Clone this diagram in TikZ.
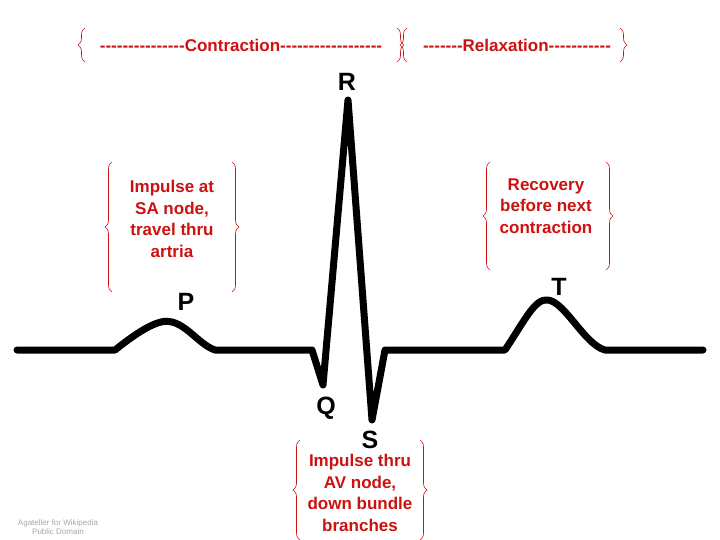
\documentclass[tikz,border=0pt]{standalone}
\usepackage{fontspec}
\setmainfont{Liberation Sans}[Ligatures=ResetAll]
\usetikzlibrary{decorations.pathreplacing}
\definecolor{myred}{HTML}{CC1111}
\newcommand\dsh[1]{\foreach \i in {1,...,#1}{-\kern0pt}}
\tikzset{
  br/.style={draw=myred,line width=0.6pt,decorate,decoration={brace,amplitude=7pt}},
  rt/.style={text=myred,font=\bfseries\fontsize{17}{21.5}\selectfont,align=center},
  tt/.style={text=myred,font=\bfseries\fontsize{17}{20}\selectfont},
  wl/.style={font=\bfseries\fontsize{25}{26}\selectfont},
  ecg/.style={line width=7pt,line join=round,line cap=round}
}
\begin{document}
\begin{tikzpicture}[x=1pt,y=-1pt]
\useasboundingbox (0,0) rectangle (720,540);
% top
\draw[br] (85,62) -- (85,28);
\node[tt] (c) at (241,45) {\dsh{15}Contraction\dsh{18}};
\draw[br] (397,28) -- (397,62);
\draw[br] (407,62) -- (407,28);
\node[tt] (r) at (517,45) {\dsh{7}Relaxation\dsh{11}};
\draw[br] (620,28) -- (620,62);
% ECG
\draw[ecg] (17,350) -- (115,350) .. controls (140,330) and (160,318) .. (172,322)
  .. controls (188,326) and (200,345) .. (215,350) -- (312,350) -- (323,385)
  -- (348,100) -- (372,420) -- (385,350) -- (505,350)
  .. controls (525,320) and (535,298) .. (548,300)
  .. controls (565,302) and (585,345) .. (605,350) -- (703,350);
\node[wl] (R) at (347,82) {R};
\node[wl] (P) at (186,302) {P};
\node[wl] (T) at (559,287) {T};
\node[wl] (Q) at (326,408) {Q};
\node[wl] (S) at (370,440) {S};
% side labels
\draw[br] (112,292) -- (112,162);
\node[rt] (i1) at (172,219) {Impulse at\\SA node,\\travel thru\\artria};
\draw[br] (232,162) -- (232,292);
\draw[br] (490,270) -- (490,162);
\node[rt] (i2) at (546,206) {Recovery\\before next\\contraction};
\draw[br] (606,162) -- (606,270);
\draw[br] (300,540) -- (300,440);
\node[rt] (i3) at (360,493) {Impulse thru\\AV node,\\down bundle\\branches};
\draw[br] (420,440) -- (420,540);
\node[text=gray!70,font=\fontsize{8}{9}\selectfont,align=center] (cr) at (58,527) {Agateller for Wikipedia\\Public Domain};
\end{tikzpicture}
\end{document}
